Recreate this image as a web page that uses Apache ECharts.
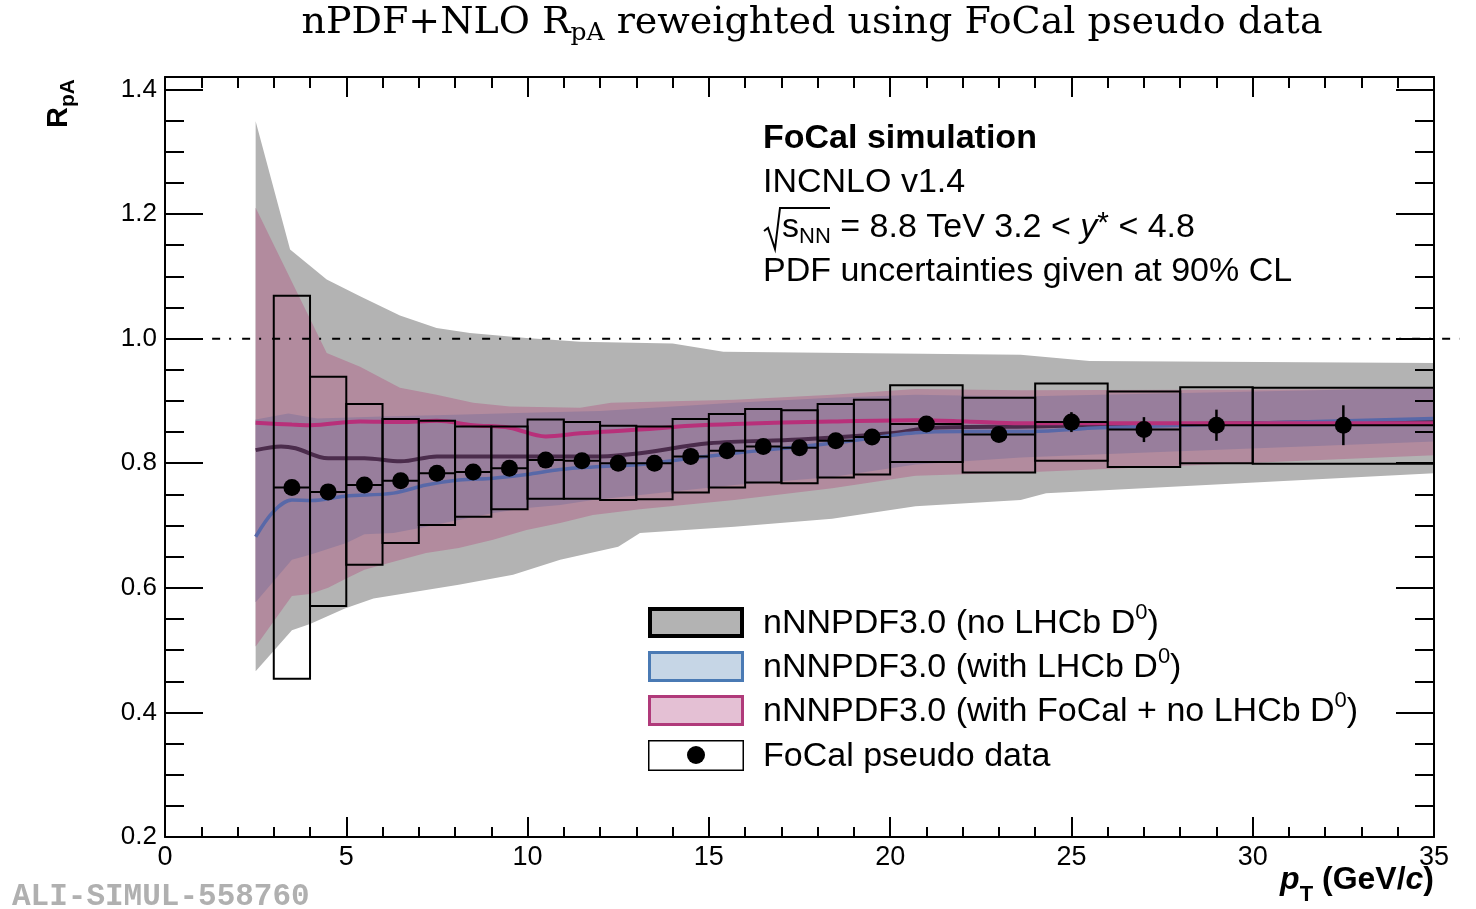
<!DOCTYPE html>
<html><head><meta charset="utf-8">
<script src="https://cdn.jsdelivr.net/npm/echarts@6/dist/echarts.min.js"></script>
<style>html,body{margin:0;padding:0;background:#fff}#c{width:1476px;height:909px}</style>
</head><body><div id="c"></div>
<script>
// ---------------- data ----------------
const binLo     = [3,4,5,6,7,8,9,10,11,12,13,14,15,16,17,18,19,20,22,24,26,28,30];
const binHi     = [4,5,6,7,8,9,10,11,12,13,14,15,16,17,18,19,20,22,24,26,28,30,35];
const binCenter = [3.5,4.5,5.5,6.5,7.5,8.5,9.5,10.5,11.5,12.5,13.5,14.5,15.5,16.5,17.5,18.5,19.5,21,23,25,27,29,32.5];
const dataY     = [0.761,0.754,0.765,0.772,0.784,0.786,0.792,0.805,0.804,0.800,0.800,0.811,0.820,0.827,0.825,0.836,0.842,0.863,0.846,0.866,0.854,0.861,0.861];
const statErr   = [0.003,0.003,0.003,0.003,0.003,0.003,0.003,0.003,0.003,0.003,0.003,0.003,0.003,0.004,0.004,0.004,0.005,0.008,0.010,0.016,0.020,0.025,0.032];
const sysLo     = [0.454,0.571,0.637,0.672,0.701,0.714,0.726,0.743,0.743,0.741,0.742,0.753,0.761,0.769,0.768,0.777,0.782,0.802,0.785,0.804,0.794,0.800,0.799];
const sysHi     = [1.069,0.939,0.895,0.871,0.868,0.859,0.859,0.870,0.866,0.860,0.859,0.871,0.879,0.887,0.885,0.895,0.902,0.925,0.905,0.928,0.915,0.922,0.921];

// nNNPDF3.0 (no LHCb D0) band + central
const grayUpper = [[2.5,1.349],[3.45,1.143],[4.46,1.095],[5.38,1.068],[6.48,1.037],[7.49,1.017],[8.41,1.009],[9.97,1.001],[11.45,0.995],[14.0,0.992],[15.4,0.979],[23.6,0.974],[25.5,0.964],[35,0.961]];
const grayLower = [[2.5,0.466],[3.5,0.532],[4.0,0.542],[4.96,0.567],[5.75,0.583],[8.1,0.605],[9.6,0.621],[10.9,0.645],[12.5,0.666],[13.1,0.688],[15.7,0.698],[18.4,0.711],[20.7,0.731],[23.6,0.741],[24.3,0.752],[35,0.784]];
const grayCentral = [[2.5,0.821],[3.2,0.827],[3.6,0.824],[4.5,0.808],[5.5,0.808],[6.5,0.803],[7.5,0.811],[10,0.811],[12,0.811],[13.1,0.816],[15.0,0.832],[17.5,0.838],[20,0.848],[21.2,0.857],[23.9,0.859],[25.8,0.861],[35,0.868]];
// nNNPDF3.0 (with FoCal + no LHCb D0)
const pinkUpper = [[2.5,1.210],[4.46,0.977],[5.38,0.955],[6.48,0.921],[7.49,0.910],[8.5,0.897],[9.51,0.891],[11.45,0.889],[12.3,0.897],[15.7,0.902],[18.4,0.910],[20.7,0.919],[23.6,0.917],[35,0.919]];
const pinkLower = [[2.5,0.506],[3.5,0.587],[4.0,0.590],[4.5,0.600],[5.0,0.615],[5.5,0.629],[6.3,0.642],[7.2,0.656],[8.1,0.664],[9.05,0.677],[9.97,0.693],[10.9,0.704],[11.8,0.717],[13.1,0.726],[15.7,0.741],[18.4,0.760],[20.7,0.780],[23.6,0.785],[35,0.813]];
const pinkCentral = [[2.5,0.865],[3.5,0.862],[4.0,0.861],[5.38,0.867],[6.48,0.866],[7.5,0.868],[8.5,0.861],[9.5,0.857],[10.5,0.843],[11.45,0.848],[13.1,0.854],[14.5,0.860],[15.7,0.863],[18.4,0.867],[20.7,0.869],[22.1,0.867],[23.6,0.864],[35,0.864]];
// nNNPDF3.0 (with LHCb D0)
const blueUpper = [[2.5,0.870],[3.4,0.880],[4.2,0.872],[6,0.875],[8,0.878],[10,0.881],[12,0.884],[15.7,0.897],[18.4,0.905],[20.7,0.910],[23.6,0.907],[25.8,0.910],[35,0.921]];
const blueLower = [[2.5,0.577],[3.5,0.645],[4.0,0.653],[5.0,0.672],[5.5,0.686],[6.3,0.688],[7.2,0.698],[8.1,0.709],[9.05,0.720],[9.97,0.728],[10.9,0.733],[11.8,0.741],[13.1,0.749],[15.7,0.765],[18.4,0.778],[20.7,0.798],[23.6,0.809],[26,0.815],[35,0.835]];
const blueCentral = [[2.5,0.682],[3.0,0.723],[3.5,0.741],[4.05,0.740],[4.96,0.747],[6.3,0.752],[7.2,0.765],[8.1,0.773],[9.05,0.776],[9.97,0.782],[10.9,0.790],[11.8,0.794],[13.1,0.798],[14.5,0.808],[15.7,0.816],[18.4,0.832],[20.7,0.849],[22,0.851],[23.9,0.851],[25.8,0.857],[35,0.872]];

const refLineY = [1.0];
const refSpan  = [1.3, 35.7];

const xTicks = {min:0, max:35, interval:5};
const yTicks = {min:0.2, max:1.42, interval:0.2};

// ---------------- helpers ----------------
const SANS = '"Liberation Sans"';
const SERIF = '"DejaVu Serif"';
function F(size, weight, style, fam) { return [style||'', weight||'', size+'px', fam||SANS].filter(Boolean).join(' '); }
const mctx = document.createElement('canvas').getContext('2d');
function run(x, y, segs, align) {
  const ws = segs.map(s => { mctx.font = s.font; return mctx.measureText(s.text).width; });
  const total = ws.reduce((a,b)=>a+b,0);
  let cx = align === 'right' ? x - total : align === 'center' ? x - total/2 : x;
  return segs.map((s,i) => {
    const el = {type:'text', x: cx, y: y + (s.dy||0), z: 100,
      style:{text:s.text, font:s.font, fill:s.fill||'#000', align:'left', verticalAlign:'middle'}};
    cx += ws[i]; return el;
  });
}

function bandSeries(name, upper, lower, color, z) {
  return {
    type:'custom', name, z, silent:true, clip:true,
    data: upper, encode:{x:0, y:1},
    renderItem(params, api) {
      if (params.dataIndex !== 0) return null;
      const pts = upper.map(p => api.coord(p)).concat(lower.slice().reverse().map(p => api.coord(p)));
      return {type:'polygon', shape:{points:pts}, style:{fill:color, stroke:null}};
    }
  };
}
function lineSeries(name, data, color, width, z) {
  return {type:'line', name, data, z, smooth:0.35, symbol:'none', silent:true,
    lineStyle:{color, width}, clip:true};
}

// ---------------- graphics (texts / legend) ----------------
const g = [];
// title
g.push(...run(812, 23, [
  {text:'nPDF+NLO R', font:F(38,'','',SERIF)},
  {text:'pA', font:F(25,'','',SERIF), dy:10},
  {text:' reweighted using FoCal pseudo data', font:F(38,'','',SERIF)}
], 'center'));
// annotation
g.push(...run(763, 139, [{text:'FoCal simulation', font:F(34,'bold')}]));
g.push(...run(763, 183, [{text:'INCNLO v1.4', font:F(34)}]));
g.push({type:'polyline', z:100, shape:{points:[[764,231],[768,228],[775,249],[780,208],[830,208]]}, style:{stroke:'#000', lineWidth:2, fill:null}});
g.push(...run(782, 228, [
  {text:'s', font:F(34)},
  {text:'NN', font:F(22), dy:9},
  {text:' = 8.8 TeV 3.2 < ', font:F(34)},
  {text:'y', font:F(34,'','italic')},
  {text:'*', font:F(30), dy:-4},
  {text:' < 4.8', font:F(34)}
]));
g.push(...run(763, 272, [{text:'PDF uncertainties given at 90% CL', font:F(34)}]));

// legend
const legendRows = [
  {y:622, fill:'#b3b3b3', stroke:'#000', lw:4, label:['nNNPDF3.0 (no LHCb D','0',')']},
  {y:666, fill:'#c6d6e6', stroke:'#4a7ab4', lw:3, label:['nNNPDF3.0 (with LHCb D','0',')']},
  {y:710, fill:'#e4c0d4', stroke:'#b03a7a', lw:3, label:['nNNPDF3.0 (with FoCal + no LHCb D','0',')']},
  {y:755, fill:'#fff', stroke:'#000', lw:1.5, label:['FoCal pseudo data']}
];
legendRows.forEach(r => {
  g.push({type:'rect', z:100, shape:{x:648 + r.lw/2, y:r.y - 15 + r.lw/2, width:96 - r.lw, height:31 - r.lw}, style:{fill:r.fill, stroke:r.stroke, lineWidth:r.lw}});
  const segs = [{text:r.label[0], font:F(34)}];
  if (r.label.length > 1) { segs.push({text:r.label[1], font:F(22), dy:-11}); segs.push({text:r.label[2], font:F(34)}); }
  g.push(...run(763, r.y + 2, segs));
});
g.push({type:'circle', z:101, shape:{cx:696, cy:755, r:9}, style:{fill:'#000'}});

// axis titles
g.push({type:'group', x:59, y:128, rotation:Math.PI/2, z:100, children: run(0, 0, [
  {text:'R', font:F(29,'bold')},
  {text:'pA', font:F(21,'bold'), dy:9}
])});
g.push(...run(1434, 880, [
  {text:'p', font:F(32,'bold','italic')},
  {text:'T', font:F(22,'bold'), dy:15},
  {text:' (GeV/', font:F(32,'bold')},
  {text:'c', font:F(32,'bold','italic')},
  {text:')', font:F(32,'bold')}
], 'right'));
// watermark
g.push(...run(12, 897, [{text:'ALI-SIMUL-558760', font:F(31,'bold','','"Liberation Mono"'), fill:'#b0b0b0'}]));

// ---------------- axes ----------------
const axisBase = {
  type:'value', z:10,
  axisLine:{show:true, onZero:false, lineStyle:{color:'#000', width:2}},
  splitLine:{show:false},
};
function isMajorY(v){ return Math.abs(v/yTicks.interval - Math.round(v/yTicks.interval)) < 1e-6; }

const option = {
  animation:false,
  backgroundColor:'#fff',
  grid:{left:165, right:42, top:77, bottom:72, containLabel:false},
  xAxis:[
    Object.assign({}, axisBase, {min:xTicks.min, max:xTicks.max, interval:xTicks.interval, position:'bottom',
      axisTick:{show:true, inside:true, length:20, lineStyle:{color:'#000', width:2}},
      minorTick:{show:true, splitNumber:5, length:10, lineStyle:{color:'#000', width:2}},
      axisLabel:{show:true, color:'#000', fontSize:27, fontFamily:'Liberation Sans', margin:7}}),
    Object.assign({}, axisBase, {min:xTicks.min, max:xTicks.max, interval:xTicks.interval, position:'top',
      axisTick:{show:true, inside:true, length:20, lineStyle:{color:'#000', width:2}},
      minorTick:{show:true, splitNumber:5, length:11, lineStyle:{color:'#000', width:2}},
      axisLabel:{show:false}})
  ],
  yAxis:[
    Object.assign({}, axisBase, {min:yTicks.min, max:yTicks.max, interval:yTicks.interval, position:'left',
      axisTick:{show:true, inside:true, length:38, lineStyle:{color:'#000', width:2}},
      minorTick:{show:true, splitNumber:4, length:19, lineStyle:{color:'#000', width:2}},
      axisLabel:{show:true, color:'#000', fontSize:26, fontFamily:'Liberation Sans', margin:8, showMaxLabel:false,
        formatter: v => isMajorY(v) ? v.toFixed(1) : ''}}),
    Object.assign({}, axisBase, {min:yTicks.min, max:yTicks.max, interval:yTicks.interval, position:'right',
      axisTick:{show:true, inside:true, length:38, lineStyle:{color:'#000', width:2}},
      minorTick:{show:true, splitNumber:4, length:19, lineStyle:{color:'#000', width:2}},
      axisLabel:{show:false}})
  ],
  series:[
    bandSeries('nNNPDF3.0 (no LHCb D0)', grayUpper, grayLower, '#b3b3b3', 1),
    bandSeries('nNNPDF3.0 (with FoCal + no LHCb D0)', pinkUpper, pinkLower, '#b28b9e', 2),
    bandSeries('nNNPDF3.0 (with LHCb D0)', blueUpper, blueLower, '#987e9c', 3),
    lineSeries('no LHCb central', grayCentral, '#4b2c4c', 4, 4),
    lineSeries('with LHCb central', blueCentral, '#5868a8', 3.5, 4),
    lineSeries('with FoCal central', pinkCentral, '#b8307a', 4, 4),
    {
      type:'custom', name:'ref', z:5, silent:true, clip:false,
      data:[[refSpan[0], refSpan[1], refLineY[0]]], encode:{x:[0,1], y:2},
      renderItem(params, api) {
        const a = api.coord([api.value(0), api.value(2)]), b = api.coord([api.value(1), api.value(2)]);
        return {type:'line', shape:{x1:a[0], y1:a[1], x2:b[0], y2:b[1]}, style:{stroke:'#000', lineWidth:2, lineDash:[8,9,2,11]}};
      }
    },
    {
      type:'custom', name:'sys', z:6, silent:true, clip:true,
      data: binLo.map((b,i) => [b, binHi[i], sysLo[i], sysHi[i]]), encode:{x:[0,1], y:[2,3]},
      renderItem(params, api) {
        const p0 = api.coord([api.value(0), api.value(3)]), p1 = api.coord([api.value(1), api.value(2)]);
        return {type:'rect', shape:{x:p0[0], y:p0[1], width:p1[0]-p0[0], height:p1[1]-p0[1]}, style:{fill:null, stroke:'#000', lineWidth:2}};
      }
    },
    {
      type:'custom', name:'err', z:7, silent:true, clip:true,
      data: binLo.map((b,i) => [b, binHi[i], binCenter[i], dataY[i], statErr[i]]), encode:{x:[0,1,2], y:3},
      renderItem(params, api) {
        const y = api.value(3), e = api.value(4), xc = api.value(2);
        const h0 = api.coord([api.value(0), y]), h1 = api.coord([api.value(1), y]);
        const v0 = api.coord([xc, y - e]), v1 = api.coord([xc, y + e]);
        return {type:'group', children:[
          {type:'line', shape:{x1:h0[0], y1:h0[1], x2:h1[0], y2:h1[1]}, style:{stroke:'#000', lineWidth:2}},
          {type:'line', shape:{x1:v0[0], y1:v0[1], x2:v1[0], y2:v1[1]}, style:{stroke:'#000', lineWidth:2.5}}
        ]};
      }
    },
    {type:'scatter', name:'FoCal pseudo data', z:8, silent:true, symbol:'circle', symbolSize:17,
      itemStyle:{color:'#000', opacity:1}, data: binCenter.map((x,i) => [x, dataY[i]])}
  ],
  graphic: g
};
const chart = echarts.init(document.getElementById('c'), null, {renderer:'canvas', width:1476, height:909});
chart.setOption(option);
</script></body></html>
